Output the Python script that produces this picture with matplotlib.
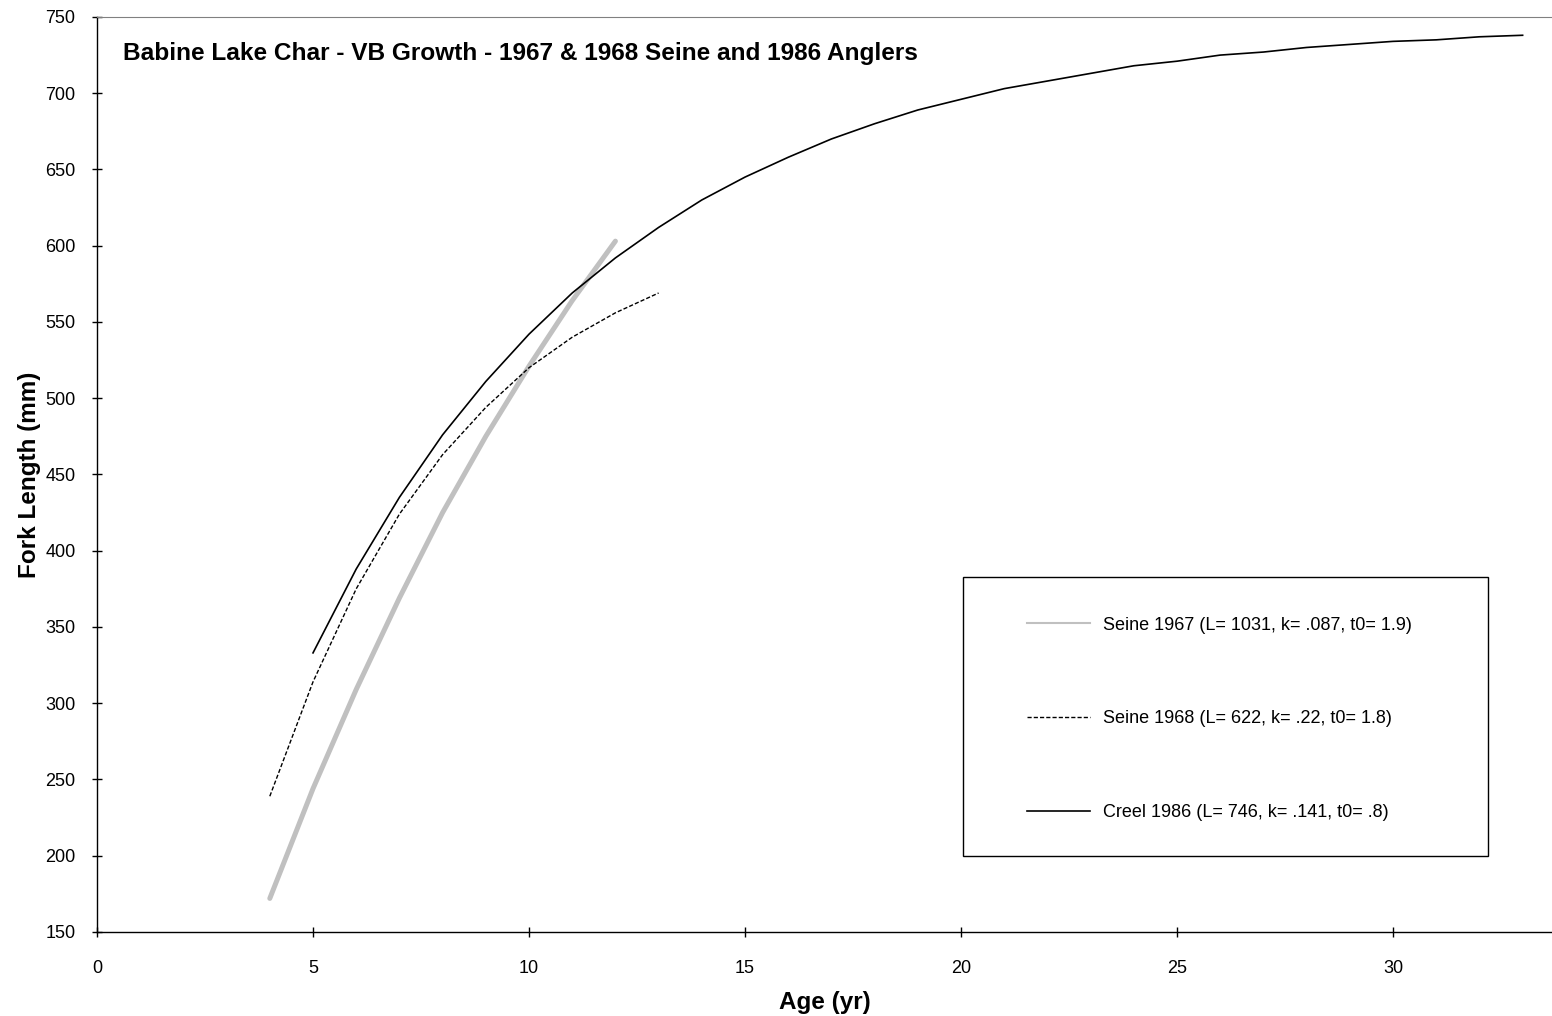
import matplotlib.pyplot as plt
from matplotlib.lines import Line2D
from matplotlib.patches import Rectangle

plt.rcParams['font.family'] = ['Liberation Sans', 'DejaVu Sans']

# Données (longueur à la fourche, mm)
ages_1967 = [4, 5, 6, 7, 8, 9, 10, 11, 12]
seine_1967 = [172, 244, 309, 369, 425, 475, 521, 564, 603]

ages_1968 = [4, 5, 6, 7, 8, 9, 10, 11, 12, 13]
seine_1968 = [239, 314, 375, 424, 463, 494, 520, 540, 556, 569]

ages_1986 = list(range(5, 34))
creel_1986 = [333, 388, 435, 476, 511, 542, 569, 592, 612, 630,
              645, 658, 670, 680, 689, 696, 703, 708, 713, 718,
              721, 725, 727, 730, 732, 734, 735, 737, 738]

labels = ["Seine 1967 (L= 1031, k= .087, t0= 1.9)",
          "Seine 1968 (L= 622, k= .22, t0= 1.8)",
          "Creel 1986 (L= 746, k= .141, t0= .8)"]

fig = plt.figure(figsize=(15.52, 10.16), dpi=100)
ax = fig.add_axes([0.0625, 0.0827, 0.9375, 0.9006])

ax.plot(ages_1967, seine_1967, color='#c0c0c0', lw=3.6, solid_capstyle='round')
ax.plot(ages_1968, seine_1968, color='black', lw=1.0, linestyle=(0, (3, 1.5)))
ax.plot(ages_1986, creel_1986, color='black', lw=1.2)

ax.set_xlim(0, 33.68)
ax.set_ylim(150, 750)
ax.set_xticks(range(0, 35, 5))
ax.set_yticks(range(150, 751, 50))
ax.tick_params(direction='inout', length=7, width=1, labelsize=13)
ax.tick_params(axis='y', pad=12)
ax.tick_params(axis='x', pad=17)

ax.spines['right'].set_visible(False)
ax.spines['top'].set_color('#808080')
ax.spines['left'].set_linewidth(1)
ax.spines['bottom'].set_linewidth(1)

ax.set_xlabel('Age (yr)', fontsize=17.5, fontweight='bold', labelpad=10)
ax.set_ylabel('Fork Length (mm)', fontsize=17.5, fontweight='bold', labelpad=3)
ax.text(0.018, 0.96, 'Babine Lake Char - VB Growth - 1967 & 1968 Seine and 1986 Anglers',
        transform=ax.transAxes, fontsize=17.6, fontweight='bold', va='center', ha='left')

# Légende
handles = [Line2D([], [], color='#c0c0c0', lw=1.5),
           Line2D([], [], color='black', lw=1.0, linestyle=(0, (3, 1.5))),
           Line2D([], [], color='black', lw=1.2)]
ax.add_patch(Rectangle((0.595, 0.083), 0.361, 0.305, transform=ax.transAxes,
                       fill=False, edgecolor='black', lw=1))
ax.legend(handles, labels, loc='center left', bbox_to_anchor=(0.639, 0.233),
          frameon=False, borderpad=0, borderaxespad=0, handlelength=3.5,
          handletextpad=0.75, labelspacing=4.25, fontsize=13)

fig.savefig('out.png', dpi=100)
